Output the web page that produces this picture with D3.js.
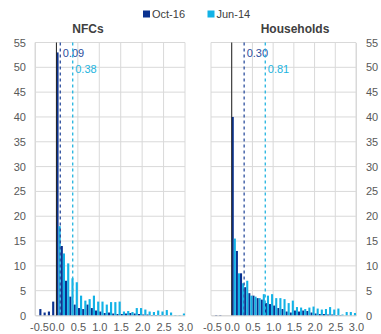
<!DOCTYPE html>
<html>
<head>
<meta charset="utf-8">
<script src="https://cdn.jsdelivr.net/npm/d3@7"></script>
<style>
	body { margin: 0; background: #fff; }
	#canvas { width: 381px; height: 334px; }
	text { font-family: 'Liberation Sans', Arial, sans-serif; }
</style>
</head>
<body>
<div id="canvas"></div>
<script>
// bin start values (bins of 0.1)
const bins = [-0.5, -0.4, -0.3, -0.2, -0.1, 0.0, 0.1, 0.2, 0.3, 0.4, 0.5, 0.6, 0.7, 0.8, 0.9,
	1.0, 1.1, 1.2, 1.3, 1.4, 1.5, 1.6, 1.7, 1.8, 1.9, 2.0, 2.1, 2.2, 2.3, 2.4, 2.5, 2.6, 2.7, 2.8, 2.9];
const seriesNames = ['Oct-16', 'Jun-14'];
const xTicks = [-0.5, 0.0, 0.5, 1.0, 1.5, 2.0, 2.5, 3.0];
const yTicks = [0, 5, 10, 15, 20, 25, 30, 35, 40, 45, 50, 55];

const nfcOct16 = [0, 1.3, 0.6, 0.8, 2.8, 53, 14, 7, 3.8, 2.2, 1.5, 1.3, 2.2, 1.5, 1.0,
	0.8, 0.5, 0.6, 0.4, 0.3, 0.3, 0.4, 0.5, 0.4, 0.3, 0.2, 0.2, 0.1, 0.1, 0.1, 0.1, 0, 0, 0, 0];
const nfcJun14 = [0, 0, 0, 0, 0, 18, 12.5, 10.5, 7.5, 6.7, 4, 3, 3.3, 4, 2.8,
	2.8, 2.2, 2.7, 2.7, 2.8, 0.8, 0.9, 0.7, 1.5, 1.5, 1.2, 0.8, 0.7, 1.0, 0.8, 1.1, 0.6, 0.1, 0.1, 0.4];
const hhOct16 = [0, 0.1, 0.1, 0, 0, 40, 13, 8.5, 5.7, 4.5, 4, 3.5, 3.2, 2.5, 2.3,
	2.0, 1.5, 1.3, 0.8, 0.6, 1.0, 0.8, 1.0, 0.9, 0.6, 0.4, 0.3, 0.3, 0.2, 0.2, 0.1, 0.1, 0, 0, 0];
const hhJun14 = [0, 0, 0, 0, 0, 15.5, 8.5, 6.5, 7, 4, 3.8, 3.5, 4.3, 4.0, 4.3,
	3.5, 3.5, 3.3, 2.5, 3.0, 1.7, 1.6, 1.3, 1.6, 1.8, 1.4, 1.2, 1.3, 1.7, 1.2, 1.4, 0.2, 0.7, 0.7, 0.5];

const nfcMedians = [0.09, 0.38];
const hhMedians = [0.30, 0.81];

const colors = ['#0a3290', '#12b2e6'];
const lineColors = ['#2d4f9e', '#22b4e0'];

const panels = [
	{ title: 'NFCs', series: [nfcOct16, nfcJun14], medians: nfcMedians, left: 35, right: 185, yAxisSide: 'left', titleX: 88, firstLabelShift: 4 },
	{ title: 'Households', series: [hhOct16, hhJun14], medians: hhMedians, left: 211, right: 356, yAxisSide: 'right', titleX: 295, firstLabelShift: 1 },
];

const dims = { width: 381, height: 334, top: 42.5, bottom: 315.5 };

const svg = d3.select('#canvas').append('svg')
	.attr('width', dims.width)
	.attr('height', dims.height);

// legend
const legend = svg.append('g').attr('id', 'legend');
const legendX = [143, 207.5];
seriesNames.forEach((name, i) => {
	const g = legend.append('g').attr('transform', `translate(${legendX[i]}, 14)`);
	g.append('rect').attr('x', 0).attr('y', -3.5).attr('width', 7).attr('height', 7).attr('fill', colors[i]);
	g.append('text').attr('x', 9).attr('y', 4).attr('font-size', 11).attr('fill', '#404040').text(name);
});

const yScale = d3.scaleLinear().domain([0, 55]).range([dims.bottom, dims.top]);

panels.forEach(p => {
	const g = svg.append('g');
	const xScale = d3.scaleLinear().domain([-0.5, 3.0]).range([p.left, p.right]);
	const band = d3.scaleBand().domain(bins).range([p.left, p.right]).padding(0);
	const sub = d3.scaleBand().domain([0, 1]).range([0, band.bandwidth()]).padding(0);

	// gridlines
	g.append('g')
		.selectAll('line.h')
		.data(yTicks)
		.join('line')
		.attr('x1', p.left).attr('x2', p.right)
		.attr('y1', d => yScale(d)).attr('y2', d => yScale(d))
		.attr('stroke', '#d9d9d9').attr('stroke-width', 1);
	g.append('g')
		.selectAll('line.v')
		.data(xTicks)
		.join('line')
		.attr('x1', d => xScale(d)).attr('x2', d => xScale(d))
		.attr('y1', dims.top).attr('y2', dims.bottom)
		.attr('stroke', '#d9d9d9').attr('stroke-width', 1);

	// bars
	p.series.forEach((vals, si) => {
		g.append('g')
			.selectAll('rect')
			.data(vals)
			.join('rect')
			.attr('x', (d, i) => band(bins[i]) + sub(si))
			.attr('width', sub.bandwidth())
			.attr('y', d => yScale(d))
			.attr('height', d => yScale(0) - yScale(d))
			.attr('fill', colors[si]);
	});

	// zero line
	g.append('line')
		.attr('x1', xScale(0)).attr('x2', xScale(0))
		.attr('y1', dims.top).attr('y2', dims.bottom)
		.attr('stroke', '#222').attr('stroke-width', 1);

	// median lines and labels
	const labelY = [53, 69];
	p.medians.forEach((m, si) => {
		g.append('line')
			.attr('x1', xScale(m)).attr('x2', xScale(m))
			.attr('y1', dims.top).attr('y2', dims.bottom)
			.attr('stroke', lineColors[si]).attr('stroke-width', 1.3)
			.attr('stroke-dasharray', '3,3');
		g.append('text')
			.attr('x', xScale(m) + 2.5)
			.attr('y', labelY[si] + 4)
			.attr('font-size', 11)
			.attr('fill', lineColors[si])
			.text(m.toFixed(2));
	});

	// x axis
	const xAxis = g.append('g')
		.attr('transform', `translate(0, ${dims.bottom})`)
		.call(d3.axisBottom(xScale).tickValues(xTicks).tickSize(0).tickPadding(8));
	xAxis.select('.domain').attr('stroke', '#d9d9d9');
	xAxis.selectAll('text').attr('font-size', 11).attr('fill', '#595959')
		.attr('font-family', "'Liberation Sans', Arial, sans-serif")
		.attr('dx', (d, i) => (i === 0 ? p.firstLabelShift : 0))
		.text(d => d3.format('.1f')(d).replace('−', '-'));

	// y axis
	const yAxisGen = p.yAxisSide === 'left'
		? d3.axisLeft(yScale).tickValues(yTicks).tickSize(0).tickPadding(9)
		: d3.axisRight(yScale).tickValues(yTicks).tickSize(0).tickPadding(10);
	const yAxis = g.append('g')
		.attr('transform', `translate(${p.yAxisSide === 'left' ? p.left : p.right}, 0)`)
		.call(yAxisGen);
	yAxis.select('.domain').attr('stroke', '#d9d9d9');
	yAxis.selectAll('text').attr('font-size', 11).attr('fill', '#595959')
		.attr('font-family', "'Liberation Sans', Arial, sans-serif");

	// title
	g.append('text')
		.attr('x', p.titleX)
		.attr('y', 33)
		.attr('text-anchor', 'middle')
		.attr('font-size', 12)
		.attr('font-weight', 'bold')
		.attr('fill', '#404040')
		.text(p.title);
});
</script>
</body>
</html>
